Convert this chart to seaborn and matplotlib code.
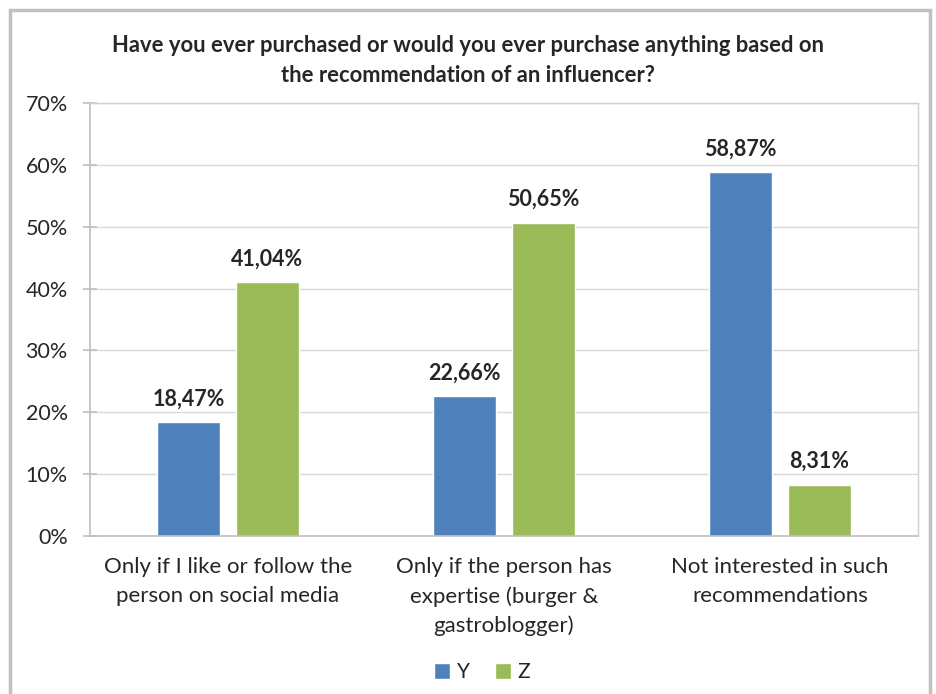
import matplotlib
matplotlib.use("Agg")
import matplotlib.pyplot as plt
import seaborn as sns
import pandas as pd
from matplotlib.patches import Rectangle

categories = ["Only if I like or follow the\nperson on social media",
              "Only if the person has\nexpertise (burger &\ngastroblogger)",
              "Not interested in such\nrecommendations"]
series_names = ["Y", "Z"]
y_values = [18.47, 22.66, 58.87]
z_values = [41.04, 50.65, 8.31]
colors = ["#4f81bd", "#9bbb59"]
yticks = [0, 10, 20, 30, 40, 50, 60, 70]

sns.set_theme(style="white")
plt.rcParams['font.family'] = ['Lato', 'DejaVu Sans']

df = pd.DataFrame({
    "category": categories * 2,
    "series": [series_names[0]] * 3 + [series_names[1]] * 3,
    "value": y_values + z_values,
})

fig = plt.figure(figsize=(9.36, 6.94), dpi=100)
ax = fig.add_axes([90/936, 1-536/694, (918-90)/936, (536-103)/694])

sns.barplot(data=df, x="category", y="value", hue="series", order=categories,
            hue_order=series_names, palette=colors, width=0.572, gap=0.21,
            ax=ax, saturation=1, legend=True)

ax.set_ylim(0, 70)
ax.set_xlim(-0.5, 2.5)
ax.set_yticks(yticks)
ax.set_yticklabels([f"{t}%" for t in yticks], fontsize=15.5)
ax.yaxis.grid(True, color="#d9d9d9", linewidth=1)
ax.set_axisbelow(True)
ax.set_xlabel("")
ax.set_ylabel("")

ax.set_xticks([0, 1, 2])
ax.set_xticklabels(categories, fontsize=16, linespacing=1.55)
ax.tick_params(axis="x", length=0, pad=15)
ax.set_xticks([-0.5, 0.5, 1.5, 2.5], minor=True)
ax.tick_params(axis="x", which="minor", length=10, color="#bfbfbf", width=1.2, direction="inout")
ax.tick_params(axis="y", length=10, color="#bfbfbf", width=1.2, direction="inout", left=True, pad=11)

for s in ["top", "right", "left", "bottom"]:
    ax.spines[s].set_visible(True)
    ax.spines[s].set_color("#d0d0d0")
    ax.spines[s].set_linewidth(1)
ax.spines["left"].set_color("#bfbfbf")
ax.spines["bottom"].set_color("#bfbfbf")
ax.spines["left"].set_linewidth(1.2)
ax.spines["bottom"].set_linewidth(1.2)

for cont in ax.containers:
    ax.bar_label(cont, labels=[f"{v:.2f}%".replace(".", ",") for v in cont.datavalues],
                 padding=9, fontsize=15.5, fontweight="bold")

leg = ax.legend(loc="center", bbox_to_anchor=(482/936, 1-672/694), bbox_transform=fig.transFigure,
                ncol=2, frameon=False, fontsize=15, handlelength=0.8, handleheight=0.8,
                handletextpad=0.3, columnspacing=1.2)

fig.text(0.5, 1-45/694, "Have you ever purchased or would you ever purchase anything based on",
         ha="center", va="center", fontsize=15.8, fontweight="bold")
fig.text(0.5, 1-76/694, "the recommendation of an influencer?",
         ha="center", va="center", fontsize=15.8, fontweight="bold")

fig.patches.append(Rectangle((10/936, -0.05), (930-10)/936, 1.05 - 10/694, transform=fig.transFigure,
                             fill=False, edgecolor="#c0c0c0", linewidth=2.5))

fig.savefig("out.png", dpi=100, facecolor="white")
